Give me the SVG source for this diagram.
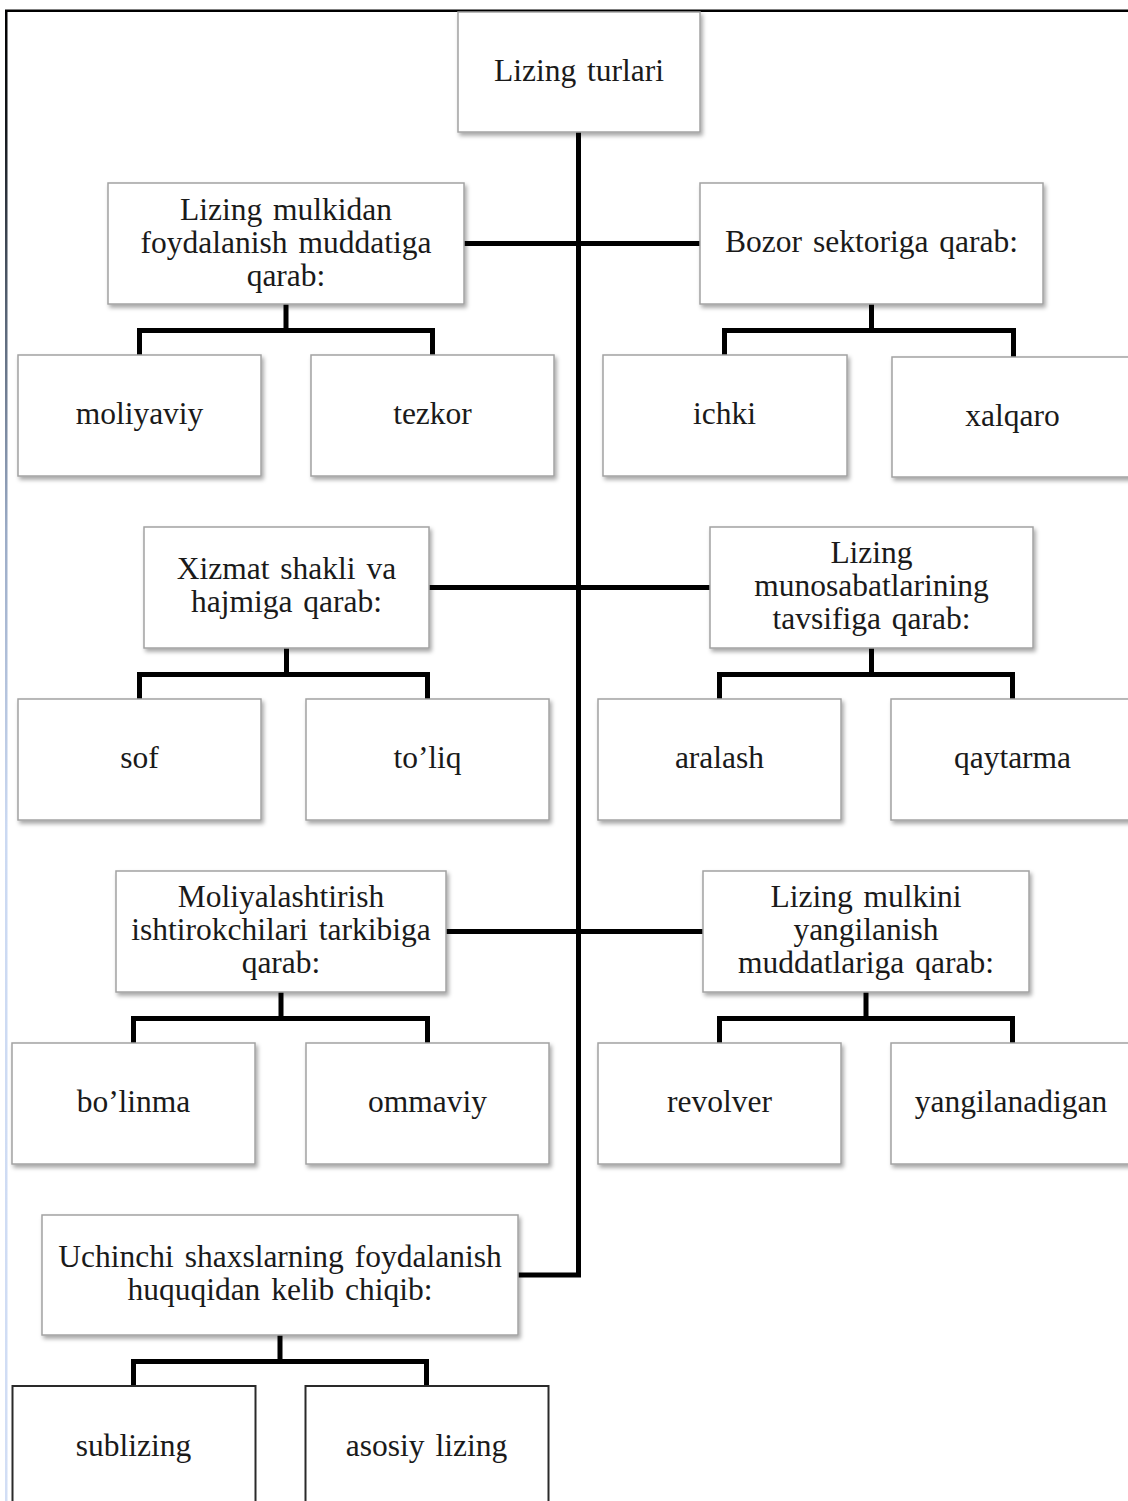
<svg xmlns="http://www.w3.org/2000/svg" width="1128" height="1501" viewBox="0 0 1128 1501">
  <style>
    .box { fill: #ffffff; stroke: #a3a3a3; stroke-width: 1.5; filter: url(#shadow); }
    .boxdark { fill: #ffffff; stroke: #2a2a2a; stroke-width: 2; }
    .t { font-family: "Liberation Serif", "Times New Roman", serif; font-size: 31.5px; fill: #1a1a1a; text-anchor: middle; word-spacing: 3px; }
    .c { fill: none; stroke: #000000; stroke-width: 5; stroke-linejoin: miter; stroke-linecap: butt; }
  </style>
  <defs>
    <filter id="shadow" x="-10%" y="-10%" width="125%" height="130%">
      <feDropShadow dx="2" dy="3" stdDeviation="2" flood-color="#000000" flood-opacity="0.35"/>
    </filter>
    <linearGradient id="leftEdge" gradientUnits="userSpaceOnUse" x1="0" y1="10" x2="0" y2="1501">
      <stop offset="0" stop-color="#000000"/>
      <stop offset="0.08" stop-color="#15181d"/>
      <stop offset="0.2" stop-color="#566273"/>
      <stop offset="0.35" stop-color="#9babc6"/>
      <stop offset="0.55" stop-color="#cbd9f2"/>
      <stop offset="1" stop-color="#d2def5"/>
    </linearGradient>
  </defs>
  <rect width="1128" height="1501" fill="#ffffff"/>

  <!-- frame -->
  <g id="frame">
    <rect x="5" y="10" width="2.5" height="1491" fill="url(#leftEdge)"/>
    <rect x="5" y="9.5" width="1123" height="2.5" fill="#000000"/>
  </g>

  <!-- connectors -->
  <g id="connectors">
    <path class="c" d="M578.5 132 V1275 H518"/>
    <path class="c" d="M464 243.5 H700"/>
    <path class="c" d="M429 587.5 H710"/>
    <path class="c" d="M446 931.5 H703"/>
    <path class="c" d="M286 304 V330.5 M139.5 355 V330.5 H432.5 V355"/>
    <path class="c" d="M871.5 304 V330.5 M724.5 355 V330.5 H1013.5 V357"/>
    <path class="c" d="M286.5 648 V674.5 M139.5 699 V674.5 H427.5 V699"/>
    <path class="c" d="M871.5 648 V674.5 M719.5 699 V674.5 H1012.5 V699"/>
    <path class="c" d="M281 992 V1018.5 M133.5 1043 V1018.5 H427.5 V1043"/>
    <path class="c" d="M866 992 V1018.5 M719.5 1043 V1018.5 H1012.5 V1043"/>
    <path class="c" d="M280 1335 V1361.5 M133.5 1386 V1361.5 H426.5 V1386"/>
  </g>

  <!-- root -->
  <g id="root">
    <rect class="box" x="458" y="12" width="242" height="120"/>
    <text class="t" x="579" y="81">Lizing turlari</text>
  </g>

  <!-- category nodes -->
  <g id="cat-muddat">
    <rect class="box" x="108" y="183" width="356" height="121"/>
    <text class="t" x="286" y="220">Lizing mulkidan</text>
    <text class="t" x="286" y="253">foydalanish muddatiga</text>
    <text class="t" x="286" y="286">qarab:</text>
  </g>
  <g id="cat-bozor">
    <rect class="box" x="700" y="183" width="343" height="121"/>
    <text class="t" x="871.5" y="252">Bozor sektoriga qarab:</text>
  </g>
  <g id="cat-xizmat">
    <rect class="box" x="144" y="527" width="285" height="121"/>
    <text class="t" x="286.5" y="579">Xizmat shakli va</text>
    <text class="t" x="286.5" y="612">hajmiga qarab:</text>
  </g>
  <g id="cat-munosabat">
    <rect class="box" x="710" y="527" width="323" height="121"/>
    <text class="t" x="871.5" y="563">Lizing</text>
    <text class="t" x="871.5" y="596">munosabatlarining</text>
    <text class="t" x="871.5" y="629">tavsifiga qarab:</text>
  </g>
  <g id="cat-moliyalashtirish">
    <rect class="box" x="116" y="871" width="330" height="121"/>
    <text class="t" x="281" y="907">Moliyalashtirish</text>
    <text class="t" x="281" y="940">ishtirokchilari tarkibiga</text>
    <text class="t" x="281" y="973">qarab:</text>
  </g>
  <g id="cat-yangilanish">
    <rect class="box" x="703" y="871" width="326" height="121"/>
    <text class="t" x="866" y="907">Lizing mulkini</text>
    <text class="t" x="866" y="940">yangilanish</text>
    <text class="t" x="866" y="973">muddatlariga qarab:</text>
  </g>
  <g id="cat-uchinchi">
    <rect class="box" x="42" y="1215" width="476" height="120"/>
    <text class="t" x="280" y="1267">Uchinchi shaxslarning foydalanish</text>
    <text class="t" x="280" y="1300">huquqidan kelib chiqib:</text>
  </g>

  <!-- leaf nodes -->
  <g id="leaf-moliyaviy">
    <rect class="box" x="18" y="355" width="243" height="121"/>
    <text class="t" x="139.5" y="424">moliyaviy</text>
  </g>
  <g id="leaf-tezkor">
    <rect class="box" x="311" y="355" width="243" height="121"/>
    <text class="t" x="432.5" y="424">tezkor</text>
  </g>
  <g id="leaf-ichki">
    <rect class="box" x="603" y="355" width="244" height="121"/>
    <text class="t" x="724.5" y="424">ichki</text>
  </g>
  <g id="leaf-xalqaro">
    <rect class="box" x="892" y="357" width="244" height="120"/>
    <text class="t" x="1012.5" y="426">xalqaro</text>
  </g>
  <g id="leaf-sof">
    <rect class="box" x="18" y="699" width="243" height="121"/>
    <text class="t" x="139.5" y="768">sof</text>
  </g>
  <g id="leaf-toliq">
    <rect class="box" x="306" y="699" width="243" height="121"/>
    <text class="t" x="427.5" y="768">to’liq</text>
  </g>
  <g id="leaf-aralash">
    <rect class="box" x="598" y="699" width="243" height="121"/>
    <text class="t" x="719.5" y="768">aralash</text>
  </g>
  <g id="leaf-qaytarma">
    <rect class="box" x="891" y="699" width="245" height="121"/>
    <text class="t" x="1012.5" y="768">qaytarma</text>
  </g>
  <g id="leaf-bolinma">
    <rect class="box" x="12" y="1043" width="243" height="121"/>
    <text class="t" x="133.5" y="1112">bo’linma</text>
  </g>
  <g id="leaf-ommaviy">
    <rect class="box" x="306" y="1043" width="243" height="121"/>
    <text class="t" x="427.5" y="1112">ommaviy</text>
  </g>
  <g id="leaf-revolver">
    <rect class="box" x="598" y="1043" width="243" height="121"/>
    <text class="t" x="719.5" y="1112">revolver</text>
  </g>
  <g id="leaf-yangilanadigan">
    <rect class="box" x="891" y="1043" width="245" height="121"/>
    <text class="t" x="1011" y="1112">yangilanadigan</text>
  </g>
  <g id="leaf-sublizing">
    <rect class="boxdark" x="12.5" y="1386" width="243" height="130"/>
    <text class="t" x="133.5" y="1456">sublizing</text>
  </g>
  <g id="leaf-asosiy">
    <rect class="boxdark" x="305.5" y="1386" width="243" height="130"/>
    <text class="t" x="426.5" y="1456">asosiy lizing</text>
  </g>
</svg>
